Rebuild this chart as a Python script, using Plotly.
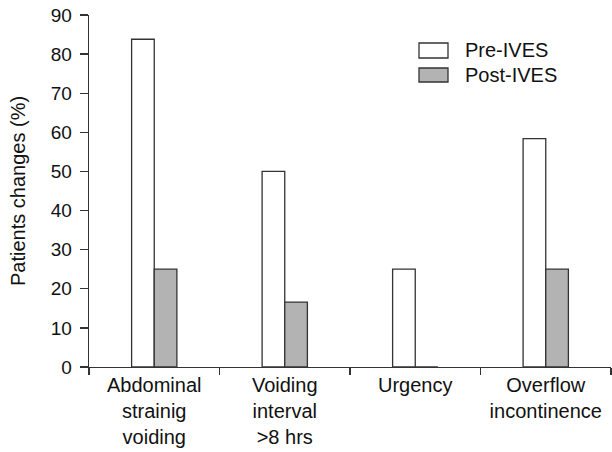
import plotly.graph_objects as go

categories = ["Abdominal<br>strainig<br>voiding", "Voiding<br>interval<br>>8 hrs", "Urgency", "Overflow<br>incontinence"]
pre_ives = [83.8, 50.0, 25.0, 58.4]
post_ives = [25.0, 16.6, 0.0, 25.0]
series_names = ["Pre-IVES", "Post-IVES"]
y_ticks = [0, 10, 20, 30, 40, 50, 60, 70, 80, 90]

FONT = "Liberation Sans, Arial, Helvetica, sans-serif"
EDGE = "#333333"
FILLS = ["#ffffff", "#b3b3b3"]

fig = go.Figure()
for name, vals, fill in zip(series_names, [pre_ives, post_ives], FILLS):
    fig.add_trace(go.Bar(
        x=categories, y=vals, name=name,
        marker=dict(color=fill, line=dict(color=EDGE, width=1.3)),
        showlegend=False,
    ))

W, H = 612, 452
L, R, T, B = 89, 1, 15, 85
pw = W - L - R
ph = H - T - B

def px_to_paper_x(px):
    return (px - L) / pw

def px_to_paper_y(py):
    return 1 - (py - T) / ph

# custom legend
legend_rows = [(43, 58), (68, 82)]
for name, fill, (y0, y1) in zip(series_names, FILLS, legend_rows):
    fig.add_shape(type="rect", xref="paper", yref="paper",
                  x0=px_to_paper_x(419), x1=px_to_paper_x(448),
                  y0=px_to_paper_y(y1), y1=px_to_paper_y(y0),
                  fillcolor=fill, line=dict(color=EDGE, width=1.3))
    fig.add_annotation(xref="paper", yref="paper",
                       x=px_to_paper_x(463), y=px_to_paper_y((y0 + y1) / 2),
                       xanchor="left", yanchor="middle", showarrow=False,
                       text=name, font=dict(size=20, color="#111111", family=FONT))

fig.add_annotation(xref="paper", yref="paper",
                   x=px_to_paper_x(18), y=0.5, textangle=-90,
                   xanchor="center", yanchor="middle", showarrow=False,
                   text="Patients changes (%)",
                   font=dict(size=20, color="#111111", family=FONT))

fig.update_layout(
    width=W, height=H,
    margin=dict(l=L, r=R, t=T, b=B, pad=0, autoexpand=False),
    paper_bgcolor="white", plot_bgcolor="white",
    barmode="group", bargap=0.653, bargroupgap=0,
    font=dict(family=FONT, size=19, color="#111111"),
    xaxis=dict(
        automargin=False,
        showline=True, linecolor=EDGE, linewidth=1.3,
        ticks="outside", tickson="boundaries", ticklen=7, tickcolor=EDGE, tickwidth=1.3,
        tickfont=dict(size=20, family=FONT, color="#111111"),
        showgrid=False, zeroline=False,
    ),
    yaxis=dict(
        automargin=False,
        range=[0, 90], tickvals=y_ticks,
        showline=True, linecolor=EDGE, linewidth=1.3,
        ticks="outside", ticklen=8, tickcolor=EDGE, tickwidth=1.3,
        tickfont=dict(size=19, family=FONT, color="#111111"),
        showgrid=False, zeroline=False,
        ticklabelstandoff=4,
    ),
)

fig.write_html("out.html",
               config={"displayModeBar": False, "staticPlot": True},
               post_script="document.body.style.margin='0';document.body.style.overflow='hidden';")
